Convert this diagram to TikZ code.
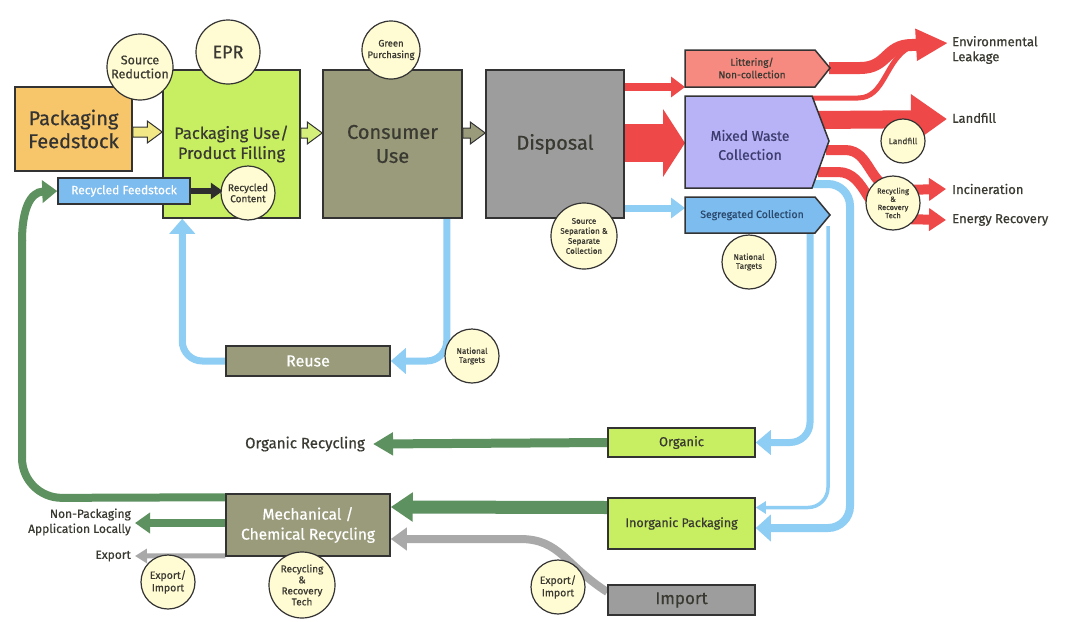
\documentclass[tikz,border=0pt]{standalone}
\usepackage{fontspec}
\setmainfont{Fira Sans}[FakeBold=0.6]
\usetikzlibrary{arrows.meta,calc}
\pgfdeclarelayer{bg}
\pgfsetlayers{bg,main}
\definecolor{cOrange}{HTML}{F8C66A}
\definecolor{cLGreen}{HTML}{C8EF62}
\definecolor{cOlive}{HTML}{9A9B7B}
\definecolor{cGrey}{HTML}{9D9D9D}
\definecolor{cRed}{HTML}{EE4848}
\definecolor{cSalmon}{HTML}{F68A80}
\definecolor{cLav}{HTML}{B8B3F7}
\definecolor{cBlue}{HTML}{7DBCEF}
\definecolor{cLine}{HTML}{8ECDF4}
\definecolor{cDGreen}{HTML}{5E9160}
\definecolor{cCream}{HTML}{FFFBD3}
\definecolor{cGArrow}{HTML}{A9A9A9}
\definecolor{cText}{HTML}{3A3A32}
\definecolor{cOutl}{HTML}{333333}
\definecolor{cYel}{HTML}{F2E986}
\definecolor{cPale}{HTML}{D4F07A}
\definecolor{cNavy}{HTML}{3D3C6E}
\definecolor{cSteel}{HTML}{2B4A6E}
\newcommand{\hollowarrow}[3]{%
 \draw[draw=cOutl, line width=1pt, fill=#3, line join=miter] let \p1=(#1), \p2=(#2) in
 (\x1,\y2+5pt) -- (\x2-15pt,\y2+5pt) -- (\x2-15pt,\y2+11pt) -- (\x2,\y2) -- (\x2-15pt,\y2-11pt) -- (\x2-15pt,\y2-5pt) -- (\x1,\y2-5pt) -- cycle;}
\tikzset{
 box/.style={draw=cOutl, line width=1.5pt, inner sep=2pt, align=center, text=cText},
 circ/.style={circle, draw=cOutl, line width=1.2pt, fill=cCream, inner sep=0pt, align=center, text=cText},
 lbl/.style={text=cText, inner sep=0pt},
 penta/.style={draw=cOutl, line width=1.5pt, line join=miter},
 redflow/.style={draw=cRed},
 blueflow/.style={draw=cLine},
 greenflow/.style={draw=cDGreen},
 greyflow/.style={draw=cGArrow}
}
\begin{document}
\begin{tikzpicture}[x=1pt,y=-1pt]
\useasboundingbox (0,0) rectangle (1070,621);
\begin{pgfonlayer}{bg}
\fill[white] (0,0) rectangle (1070,621);
\end{pgfonlayer}

% ---------- main boxes
\node[box, fill=cOrange, minimum width=117pt, minimum height=84pt, font=\fontsize{20}{23}\selectfont, text=black!80] (pf) at (73.5,129) {Packaging\\Feedstock};
\node[box, fill=cLGreen, minimum width=137pt, minimum height=148pt, font=\fontsize{16.5}{20}\selectfont] (pu) at (231.5,144) {Packaging Use/\\Product Filling};
\node[box, fill=cOlive, minimum width=139pt, minimum height=148pt, font=\fontsize{20}{24}\selectfont] (cu) at (392.5,144) {Consumer\\Use};
\node[box, fill=cGrey, minimum width=138pt, minimum height=148pt, font=\fontsize{20}{24}\selectfont] (dp) at (555,144) {Disposal};
\node[box, fill=cBlue, minimum width=132pt, minimum height=26pt, font=\fontsize{12}{14}\selectfont, text=white] (rf) at (124,191) {Recycled Feedstock};
\node[box, fill=cOlive, minimum width=164pt, minimum height=30pt, font=\fontsize{16}{18}\selectfont, text=white] (reuse) at (308,361) {Reuse};
\node[box, fill=cOlive, minimum width=164pt, minimum height=62pt, font=\fontsize{15.5}{20}\selectfont, text=white] (mech) at (308,525) {Mechanical /\\Chemical Recycling};
\node[box, fill=cLGreen, minimum width=147pt, minimum height=29pt, font=\fontsize{13}{15}\selectfont] (org) at (681.5,442.5) {Organic};
\node[box, fill=cLGreen, minimum width=147pt, minimum height=51pt, font=\fontsize{12.5}{15}\selectfont] (inorg) at (681.5,523.5) {Inorganic Packaging};
\node[box, fill=cGrey, minimum width=147pt, minimum height=30pt, font=\fontsize{17}{19}\selectfont] (imp) at (681.5,600) {Import};

% ---------- pentagons
\draw[penta, fill=cSalmon] (685,50) -- (815,50) -- (830,68) -- (815,87) -- (685,87) -- cycle;
\node[lbl, align=center, font=\fontsize{10}{12.5}\selectfont] (lit) at (752,68) {Littering/\\Non-collection};
\draw[penta, fill=cLav] (685,96) -- (812,96) -- (829,141) -- (812,188) -- (685,188) -- cycle;
\node[lbl, align=center, text=cNavy, font=\fontsize{14}{19}\selectfont] (mwc) at (750,145) {Mixed Waste\\Collection};
\draw[penta, fill=cBlue] (685,197) -- (815,197) -- (830,215) -- (815,233) -- (685,233) -- cycle;
\node[lbl, align=center, text=cSteel, font=\fontsize{10.5}{12}\selectfont] (sgc) at (752,215) {Segregated Collection};
\coordinate (litW) at (685,87);
\coordinate (litT) at (829,68);
\coordinate (mixW) at (685,143);
\coordinate (mixTop) at (812,98);
\coordinate (mixBR) at (812,184);
\coordinate (segW) at (685,208);
\coordinate (segB1) at (810,233);
\coordinate (segB2) at (828,226);

% ---------- outside labels
\node[lbl, anchor=west, align=left, font=\fontsize{13}{15}\selectfont] (envl) at (952,50) {Environmental\\Leakage};
\node[lbl, anchor=west, font=\fontsize{13}{15}\selectfont] (lfl) at (952,118) {Landfill};
\node[lbl, anchor=west, font=\fontsize{13}{15}\selectfont] (inc) at (952,189) {Incineration};
\node[lbl, anchor=west, font=\fontsize{13}{15}\selectfont] (enr) at (952,220) {Energy Recovery};
\node[lbl, font=\fontsize{15}{17}\selectfont] (orr) at (305,444) {Organic Recycling};
\node[lbl, anchor=east, align=right, font=\fontsize{12}{15}\selectfont] (npa) at (131,522) {Non-Packaging\\Application Locally};
\node[lbl, anchor=east, font=\fontsize{12}{14}\selectfont] (exp) at (131,556) {Export};

% ---------- connectors (background)
\begin{pgfonlayer}{bg}
% from disposal
\draw[redflow, line width=8pt, -{Triangle[length=14pt,width=20pt]}] (dp.east |- litW) -- (litW);
\draw[redflow, line width=38pt, -{Triangle[length=22pt,width=67pt]}] (dp.east |- mixW) -- (mixW);
\draw[blueflow, line width=7pt, -{Triangle[length=14pt,width=20pt]}] (dp.east |- segW) -- (segW);
% red outflows
\draw[redflow, line width=5pt] (mixTop) -- (858,98) .. controls (885,98) and (885,60) .. (910,47);
\draw[redflow, line width=12pt, -{Triangle[length=32pt,width=30pt]}] (litT) -- (860,68) .. controls (888,68) and (885,45) .. (912,45) -- ($(envl.west)+(-4,-7)$);
\draw[redflow, line width=18pt, -{Triangle[length=36pt,width=48pt]}] (818,120) -- ($(lfl.west)+(-5,1)$);
\draw[redflow, line width=10pt, -{Triangle[length=17pt,width=22pt]}] (826,150) -- (845,150) .. controls (872,150) and (868,190) .. (900,190) -- ($(inc.west)+(-6,0)$);
\draw[redflow, line width=10pt, -{Triangle[length=17pt,width=22pt]}] (818,172) -- (838,172) .. controls (868,172) and (866,219) .. (900,219) -- ($(enr.west)+(-6,0)$);
% blue loops
\draw[blueflow, line width=7pt, rounded corners=20pt, -{Triangle[length=15pt,width=25pt]}] ($(cu.south east)+(-16,0)$) |- (reuse.east);
\draw[blueflow, line width=7pt, rounded corners=20pt, -{Triangle[length=15pt,width=25pt]}] (reuse.west) -| ($(pu.south west)+(20,0)$);
\draw[blueflow, line width=7pt, rounded corners=20pt, -{Triangle[length=15pt,width=24pt]}] (segB1) |- (org.east);
\draw[blueflow, line width=3.5pt, rounded corners=20pt, -{Triangle[length=10pt,width=12pt]}] (segB2) |- ($(inorg.east)+(0,-16)$);
\draw[blueflow, line width=8pt, rounded corners=22pt, -{Triangle[length=15pt,width=26pt]}] (mixBR) -- (850,184) -- (850,528) -- ($(inorg.east)+(0,4.5)$);
% green
\draw[greenflow, line width=9pt, -{Triangle[length=20pt,width=22pt]}] (org.west) -- ($(orr.east)+(8,0)$);
\draw[greenflow, line width=13pt, -{Triangle[length=22pt,width=28pt]}] ($(inorg.west)+(0,-16)$) -- ($(mech.east)+(0,-18)$);
\draw[greenflow, line width=8pt, rounded corners=40pt] ($(mech.north west)+(0,4)$) -- (22,498) -- (22,240);
\draw[greenflow, line width=8pt, -{Triangle[length=15pt,width=22pt]}] (22,241) .. controls (22,210) and (30,192) .. (rf.west);
\draw[greenflow, line width=8pt, -{Triangle[length=15pt,width=20pt]}] ($(mech.west)+(0,-2)$) -- ($(npa.east)+(4,1)$);
% grey
\draw[greyflow, line width=5pt, -{Triangle[length=12pt,width=14pt]}] ($(mech.south west)+(0,-1)$) -- ($(exp.east)+(4,0)$);
\draw[greyflow, line width=8pt, -{Triangle[length=16pt,width=22pt]}] ($(imp.west)+(0,-8)$) .. controls (565,565) and (560,539) .. (520,539) -- ($(mech.east)+(0,14)$);
\end{pgfonlayer}

% dark small arrow
\draw[draw=cOutl!90!black, line width=6pt, -{Triangle[length=12pt,width=16pt]}] (rf.east) -- ($(rf.east)+(32,0)$);

% hollow arrows
\coordinate (hy1) at (0,132);
\coordinate (hy2) at (0,133);
\hollowarrow{pf.east |- hy1}{pu.west |- hy1}{cYel}
\hollowarrow{pu.east |- hy2}{cu.west |- hy2}{cPale}
\hollowarrow{cu.east |- hy2}{dp.west |- hy2}{cOlive}

% ---------- circles
\node[circ, minimum size=66pt, font=\fontsize{12.5}{14}\selectfont] (sr) at (140,67) {Source\\Reduction};
\node[circ, minimum size=64pt, font=\fontsize{18}{20}\selectfont] (epr) at (228,52) {EPR};
\node[circ, minimum size=58pt, font=\fontsize{9.5}{11.5}\selectfont] (gp) at (391,50) {Green\\Purchasing};
\node[circ, minimum size=54pt, font=\fontsize{10}{11}\selectfont] (rc) at (248,193) {Recycled\\Content};
\node[circ, minimum size=66pt, font=\fontsize{8}{10}\selectfont] (ss) at (584,236) {Source\\Separation \&\\Separate\\Collection};
\node[circ, minimum size=54pt, font=\fontsize{8}{9}\selectfont] (nt1) at (749,262) {National\\Targets};
\node[circ, minimum size=44pt, font=\fontsize{8.5}{9}\selectfont] (lfc) at (903,141) {Landfill};
\node[circ, minimum size=54pt, font=\fontsize{7.5}{8.2}\selectfont] (rrt1) at (893,203) {Recycling\\\&\\Recovery\\Tech};
\node[circ, minimum size=54pt, font=\fontsize{8}{9}\selectfont] (nt2) at (472,356) {National\\Targets};
\node[circ, minimum size=54pt, font=\fontsize{10.5}{12.5}\selectfont] (ei1) at (168,582) {Export/\\Import};
\node[circ, minimum size=66pt, font=\fontsize{10}{11}\selectfont] (rrt2) at (302,585) {Recycling\\\&\\Recovery\\Tech};
\node[circ, minimum size=54pt, font=\fontsize{10.5}{12.5}\selectfont] (ei2) at (558,587) {Export/\\Import};
\end{tikzpicture}
\end{document}
